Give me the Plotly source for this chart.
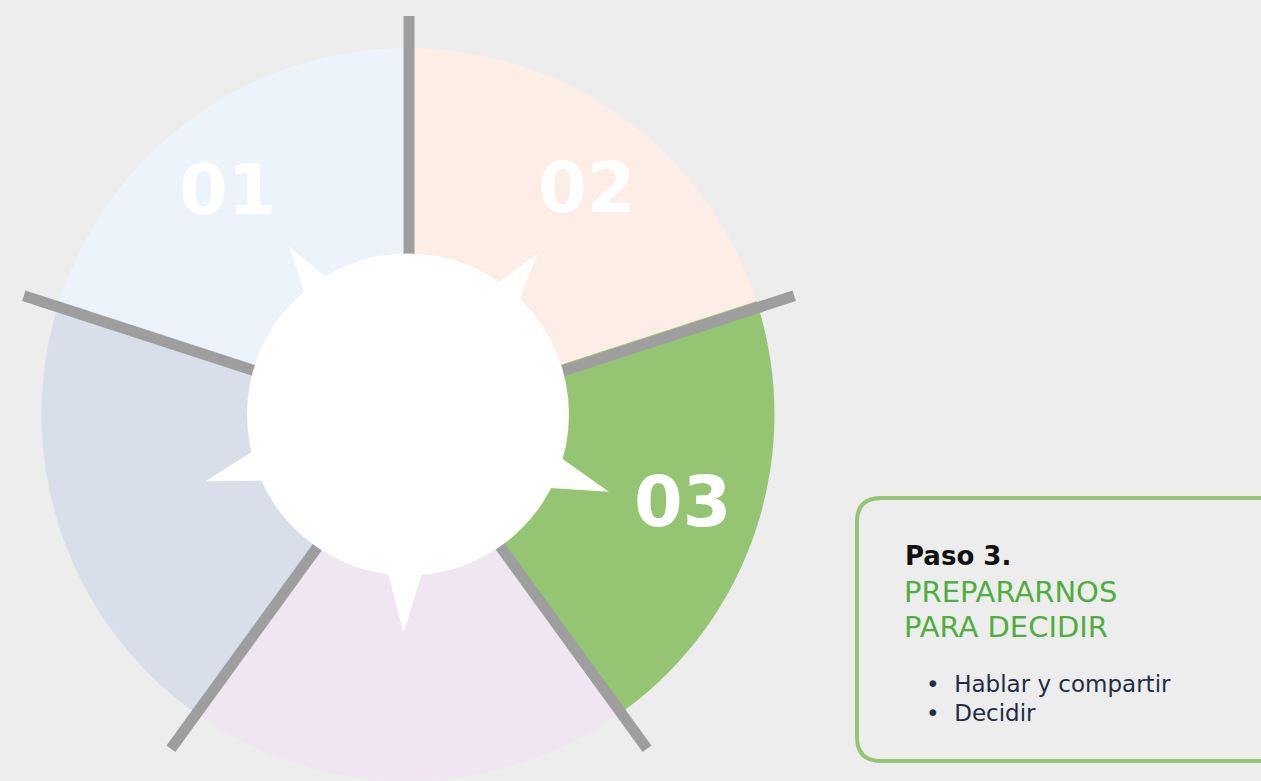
import math
import plotly.graph_objects as go

# ---- data ----
step_labels = ["01", "02", "03", "04", "05"]
step_values = [1, 1, 1, 1, 1]
step_colors = ["#EDF3FB", "#FCEDE6", "#95C573", "#F0E6F2", "#D9DFEA"]
shown_labels = ["01", "02", "03"]

box_title = "Paso 3."
box_subtitle = ["PREPARARNOS", "PARA DECIDIR"]
box_bullets = ["Hablar y compartir", "Decidir"]

# ---- layout constants (pixels) ----
W, H = 1261, 781
CX, CY = 408, 414.5
R = 366.5
STAR_DX, STAR_DY = 1, 6.5   # star (separators + spikes) sits slightly lower than the disc
SEP_R = 405
INNER_R = 161
SPIKE_TIP_R = 212
SPIKE_HALF = 6.5
START_ANGLE = 162  # math degrees where first slice starts (clockwise)
LABEL_R = 288
LABEL_SHIFT = {"01": 2.7, "02": -2.2, "03": 0.4}

def pt(r, ang, dx=0.0, dy=0.0):
    a = math.radians(ang)
    return CX + dx + r * math.cos(a), CY + dy - r * math.sin(a)

fig = go.Figure()
fig.add_trace(go.Pie(
    labels=step_labels, values=step_values, sort=False, direction="clockwise",
    rotation=90 - START_ANGLE, marker=dict(colors=step_colors, line=dict(width=0)),
    textinfo="none", hoverinfo="label", showlegend=False,
    domain=dict(x=[(CX - R) / W, (CX + R) / W], y=[max(0, (H - CY - R) / H), (H - CY + R) / H]),
))

total = sum(step_values)
bounds = []
mids = []
acc = 0
for v in step_values:
    bounds.append(START_ANGLE - 360 * acc / total)
    mids.append(START_ANGLE - 360 * (acc + v / 2) / total)
    acc += v

shapes = []
for b in bounds:
    x1, y1 = pt(SEP_R, b, STAR_DX, STAR_DY)
    shapes.append(dict(type="line", xref="x", yref="y", x0=CX + STAR_DX, y0=CY + STAR_DY, x1=x1, y1=y1,
                       line=dict(color="#9E9E9E", width=11), layer="above"))
shapes.append(dict(type="circle", xref="x", yref="y", x0=CX - INNER_R, x1=CX + INNER_R,
                   y0=CY - INNER_R, y1=CY + INNER_R, fillcolor="white",
                   line=dict(width=0), layer="above"))
for m in mids:
    tip = pt(SPIKE_TIP_R, m - 1.5, STAR_DX, STAR_DY)
    b1 = pt(INNER_R - 12, m - 1.5 - SPIKE_HALF * 1.08, STAR_DX, STAR_DY)
    b2 = pt(INNER_R - 12, m - 1.5 + SPIKE_HALF * 1.08, STAR_DX, STAR_DY)
    shapes.append(dict(type="path", xref="x", yref="y",
                       path=f"M {b1[0]:.1f} {b1[1]:.1f} L {tip[0]:.1f} {tip[1]:.1f} L {b2[0]:.1f} {b2[1]:.1f} Z",
                       fillcolor="white", line=dict(width=0), layer="above"))

# text box
bx0, by0, bx1, by1, rr = 857, 498, 1300, 761, 24
shapes.append(dict(type="path", xref="x", yref="y",
                   path=(f"M {bx0+rr} {by0} L {bx1} {by0} L {bx1} {by1} L {bx0+rr} {by1} "
                         f"Q {bx0} {by1} {bx0} {by1-rr} L {bx0} {by0+rr} Q {bx0} {by0} {bx0+rr} {by0} Z"),
                   line=dict(color="#95C573", width=4), fillcolor="rgba(0,0,0,0)", layer="above"))

annotations = []
for lab, m in zip(step_labels, mids):
    if lab in shown_labels:
        x, y = pt(LABEL_R, m + LABEL_SHIFT.get(lab, 0))
        annotations.append(dict(x=x, y=y, xref="x", yref="y", text=f"<b>{lab}</b>", showarrow=False,
                                font=dict(family="DejaVu Sans", size=70, color="white"),
                                xanchor="center", yanchor="middle"))

annotations.append(dict(x=903, y=556, xref="x", yref="y", text=f"<b>{box_title}</b>", showarrow=False,
                        font=dict(family="DejaVu Sans", size=26, color="#111111"),
                        xanchor="left", yanchor="middle"))
for i, s in enumerate(box_subtitle):
    annotations.append(dict(x=902, y=592 + 35 * i, xref="x", yref="y", text=s, showarrow=False,
                            font=dict(family="DejaVu Sans", size=29, color="#4FAE3F"),
                            xanchor="left", yanchor="middle"))
for i, s in enumerate(box_bullets):
    annotations.append(dict(x=924, y=684 + 29 * i, xref="x", yref="y", text="•  " + s, showarrow=False,
                            font=dict(family="DejaVu Sans", size=23, color="#1F2D45"),
                            xanchor="left", yanchor="middle"))

fig.update_layout(
    width=W, height=H, margin=dict(l=0, r=0, t=0, b=0),
    paper_bgcolor="#EDEDED", plot_bgcolor="rgba(0,0,0,0)",
    xaxis=dict(range=[0, W], visible=False, fixedrange=True),
    yaxis=dict(range=[H, 0], visible=False, fixedrange=True),
    shapes=shapes, annotations=annotations, showlegend=False,
)
fig.write_html("out.html", config={"displayModeBar": False},
               post_script="document.body.style.margin='0';document.body.style.background='#EDEDED';document.body.style.overflow='hidden';")
